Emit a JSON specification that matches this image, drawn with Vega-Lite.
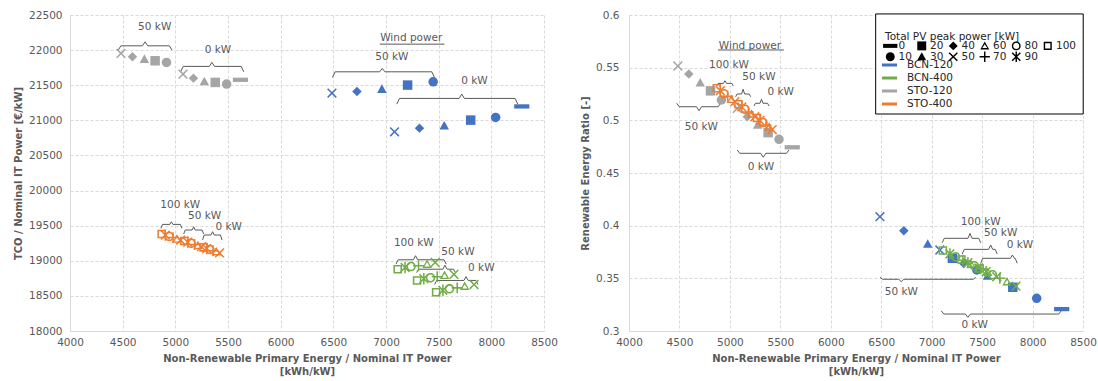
{
"$schema": "https://vega.github.io/schema/vega-lite/v6.json",
"padding": {"left": 13, "top": 10, "right": 5, "bottom": 5},
"background": "white",
"spacing": 85,
"bounds": "flush",
"datasets": {
"pts": [
{"s":"BCN-120","w":50,"pv":50,"x":6487,"tco":21388,"rer":0.4085},
{"s":"BCN-120","w":50,"pv":40,"x":6724,"tco":21412,"rer":0.3952},
{"s":"BCN-120","w":50,"pv":30,"x":6961,"tco":21445,"rer":0.3826},
{"s":"BCN-120","w":50,"pv":20,"x":7205,"tco":21502,"rer":0.369},
{"s":"BCN-120","w":50,"pv":10,"x":7448,"tco":21549,"rer":0.3579},
{"s":"BCN-120","w":0,"pv":50,"x":7081,"tco":20837,"rer":0.3769},
{"s":"BCN-120","w":0,"pv":40,"x":7318,"tco":20889,"rer":0.364},
{"s":"BCN-120","w":0,"pv":30,"x":7553,"tco":20922,"rer":0.3522},
{"s":"BCN-120","w":0,"pv":20,"x":7804,"tco":21003,"rer":0.3415},
{"s":"BCN-120","w":0,"pv":10,"x":8041,"tco":21042,"rer":0.331},
{"s":"BCN-120","w":0,"pv":0,"x":8289,"tco":21198,"rer":0.3208},
{"s":"STO-120","w":50,"pv":50,"x":4484,"tco":21953,"rer":0.5516},
{"s":"STO-120","w":50,"pv":40,"x":4593,"tco":21905,"rer":0.544},
{"s":"STO-120","w":50,"pv":30,"x":4706,"tco":21872,"rer":0.5357},
{"s":"STO-120","w":50,"pv":20,"x":4808,"tco":21848,"rer":0.528},
{"s":"STO-120","w":50,"pv":10,"x":4916,"tco":21825,"rer":0.5193},
{"s":"STO-120","w":0,"pv":50,"x":5073,"tco":21658,"rer":0.5114},
{"s":"STO-120","w":0,"pv":40,"x":5172,"tco":21601,"rer":0.5035},
{"s":"STO-120","w":0,"pv":30,"x":5275,"tco":21554,"rer":0.4956},
{"s":"STO-120","w":0,"pv":20,"x":5379,"tco":21540,"rer":0.4883},
{"s":"STO-120","w":0,"pv":10,"x":5487,"tco":21516,"rer":0.482},
{"s":"STO-120","w":0,"pv":0,"x":5618,"tco":21577,"rer":0.4744},
{"s":"BCN-400","w":100,"pv":100,"x":7111,"tco":18880,"rer":0.3765},
{"s":"BCN-400","w":100,"pv":90,"x":7181,"tco":18904,"rer":0.3732},
{"s":"BCN-400","w":100,"pv":80,"x":7238,"tco":18919,"rer":0.3705},
{"s":"BCN-400","w":100,"pv":70,"x":7309,"tco":18928,"rer":0.3672},
{"s":"BCN-400","w":100,"pv":60,"x":7390,"tco":18952,"rer":0.3634},
{"s":"BCN-400","w":100,"pv":50,"x":7467,"tco":18977,"rer":0.3598},
{"s":"BCN-400","w":50,"pv":100,"x":7295,"tco":18720,"rer":0.3679},
{"s":"BCN-400","w":50,"pv":90,"x":7359,"tco":18745,"rer":0.3649},
{"s":"BCN-400","w":50,"pv":80,"x":7423,"tco":18759,"rer":0.3619},
{"s":"BCN-400","w":50,"pv":70,"x":7486,"tco":18774,"rer":0.359},
{"s":"BCN-400","w":50,"pv":60,"x":7556,"tco":18793,"rer":0.3557},
{"s":"BCN-400","w":50,"pv":50,"x":7645,"tco":18807,"rer":0.3515},
{"s":"BCN-400","w":0,"pv":100,"x":7476,"tco":18551,"rer":0.3594},
{"s":"BCN-400","w":0,"pv":90,"x":7540,"tco":18580,"rer":0.3564},
{"s":"BCN-400","w":0,"pv":80,"x":7603,"tco":18600,"rer":0.3535},
{"s":"BCN-400","w":0,"pv":70,"x":7676,"tco":18614,"rer":0.3501},
{"s":"BCN-400","w":0,"pv":60,"x":7747,"tco":18638,"rer":0.3468},
{"s":"BCN-400","w":0,"pv":50,"x":7836,"tco":18662,"rer":0.3426},
{"s":"STO-400","w":100,"pv":100,"x":4870,"tco":19381,"rer":0.5304},
{"s":"STO-400","w":100,"pv":90,"x":4905,"tco":19366,"rer":0.5281},
{"s":"STO-400","w":100,"pv":80,"x":4942,"tco":19345,"rer":0.5252},
{"s":"STO-400","w":100,"pv":70,"x":4978,"tco":19330,"rer":0.5229},
{"s":"STO-400","w":100,"pv":60,"x":5015,"tco":19309,"rer":0.52},
{"s":"STO-400","w":100,"pv":50,"x":5050,"tco":19295,"rer":0.5177},
{"s":"STO-400","w":50,"pv":100,"x":5085,"tco":19283,"rer":0.5152},
{"s":"STO-400","w":50,"pv":90,"x":5118,"tco":19265,"rer":0.5127},
{"s":"STO-400","w":50,"pv":80,"x":5150,"tco":19251,"rer":0.5106},
{"s":"STO-400","w":50,"pv":70,"x":5183,"tco":19233,"rer":0.508},
{"s":"STO-400","w":50,"pv":60,"x":5215,"tco":19219,"rer":0.506},
{"s":"STO-400","w":50,"pv":50,"x":5248,"tco":19201,"rer":0.5034},
{"s":"STO-400","w":0,"pv":100,"x":5268,"tco":19191,"rer":0.5022},
{"s":"STO-400","w":0,"pv":90,"x":5298,"tco":19174,"rer":0.4999},
{"s":"STO-400","w":0,"pv":80,"x":5328,"tco":19161,"rer":0.4979},
{"s":"STO-400","w":0,"pv":70,"x":5358,"tco":19144,"rer":0.4956},
{"s":"STO-400","w":0,"pv":60,"x":5389,"tco":19130,"rer":0.4936},
{"s":"STO-400","w":0,"pv":50,"x":5420,"tco":19112,"rer":0.4912}
],
"ann": [
{"p":"L","t":"50 kW","x":4804,"y":22323},
{"p":"L","t":"0 kW","x":5404,"y":22000},
{"p":"L","t":"Wind power","x":7240,"y":22167},
{"p":"L","t":"50 kW","x":7055,"y":21896},
{"p":"L","t":"0 kW","x":7840,"y":21563},
{"p":"L","t":"100 kW","x":5047,"y":19791},
{"p":"L","t":"50 kW","x":5278,"y":19636},
{"p":"L","t":"0 kW","x":5506,"y":19476},
{"p":"L","t":"100 kW","x":7264,"y":19257},
{"p":"L","t":"50 kW","x":7683,"y":19122},
{"p":"L","t":"0 kW","x":7905,"y":18904},
{"p":"R","t":"Wind power","x":5199,"y":0.5706},
{"p":"R","t":"100 kW","x":4991,"y":0.5525},
{"p":"R","t":"50 kW","x":5288,"y":0.5408},
{"p":"R","t":"0 kW","x":5503,"y":0.5272},
{"p":"R","t":"50 kW","x":4717,"y":0.4934},
{"p":"R","t":"0 kW","x":5308,"y":0.4557},
{"p":"R","t":"100 kW","x":7486,"y":0.4037},
{"p":"R","t":"50 kW","x":7684,"y":0.3927},
{"p":"R","t":"0 kW","x":7875,"y":0.3816},
{"p":"R","t":"50 kW","x":6699,"y":0.3373},
{"p":"R","t":"0 kW","x":7426,"y":0.3057}
],
"br": [
{"p":"L","id":"L1","o":0,"x":4458,"y":22000},{"p":"L","id":"L1","o":1,"x":4483,"y":22061},{"p":"L","id":"L1","o":2,"x":4688,"y":22061},{"p":"L","id":"L1","o":3,"x":4713,"y":22118},{"p":"L","id":"L1","o":4,"x":4738,"y":22061},{"p":"L","id":"L1","o":5,"x":4943,"y":22061},{"p":"L","id":"L1","o":6,"x":4968,"y":22000},
{"p":"L","id":"L2","o":0,"x":5050,"y":21691},{"p":"L","id":"L2","o":1,"x":5075,"y":21768},{"p":"L","id":"L2","o":2,"x":5322,"y":21768},{"p":"L","id":"L2","o":3,"x":5347,"y":21825},{"p":"L","id":"L2","o":4,"x":5372,"y":21768},{"p":"L","id":"L2","o":5,"x":5625,"y":21768},{"p":"L","id":"L2","o":6,"x":5650,"y":21691},
{"p":"L","id":"L3","o":0,"x":6492,"y":21611},{"p":"L","id":"L3","o":1,"x":6517,"y":21691},{"p":"L","id":"L3","o":2,"x":6940,"y":21691},{"p":"L","id":"L3","o":3,"x":6965,"y":21739},{"p":"L","id":"L3","o":4,"x":6990,"y":21691},{"p":"L","id":"L3","o":5,"x":7435,"y":21691},{"p":"L","id":"L3","o":6,"x":7460,"y":21611},
{"p":"L","id":"L4","o":0,"x":7103,"y":21231},{"p":"L","id":"L4","o":1,"x":7128,"y":21312},{"p":"L","id":"L4","o":2,"x":7694,"y":21312},{"p":"L","id":"L4","o":3,"x":7719,"y":21374},{"p":"L","id":"L4","o":4,"x":7744,"y":21312},{"p":"L","id":"L4","o":5,"x":8226,"y":21312},{"p":"L","id":"L4","o":6,"x":8251,"y":21231},
{"p":"L","id":"L5","o":0,"x":4863,"y":19462},{"p":"L","id":"L5","o":1,"x":4878,"y":19518},{"p":"L","id":"L5","o":2,"x":4947,"y":19518},{"p":"L","id":"L5","o":3,"x":4962,"y":19555},{"p":"L","id":"L5","o":4,"x":4977,"y":19518},{"p":"L","id":"L5","o":5,"x":5048,"y":19518},{"p":"L","id":"L5","o":6,"x":5063,"y":19462},
{"p":"L","id":"L6","o":0,"x":5079,"y":19381},{"p":"L","id":"L6","o":1,"x":5094,"y":19438},{"p":"L","id":"L6","o":2,"x":5159,"y":19438},{"p":"L","id":"L6","o":3,"x":5174,"y":19484},{"p":"L","id":"L6","o":4,"x":5189,"y":19438},{"p":"L","id":"L6","o":5,"x":5254,"y":19438},{"p":"L","id":"L6","o":6,"x":5269,"y":19381},
{"p":"L","id":"L7","o":0,"x":5259,"y":19297},{"p":"L","id":"L7","o":1,"x":5274,"y":19367},{"p":"L","id":"L7","o":2,"x":5339,"y":19367},{"p":"L","id":"L7","o":3,"x":5354,"y":19414},{"p":"L","id":"L7","o":4,"x":5369,"y":19367},{"p":"L","id":"L7","o":5,"x":5428,"y":19367},{"p":"L","id":"L7","o":6,"x":5443,"y":19297},
{"p":"L","id":"L8","o":0,"x":7095,"y":18952},{"p":"L","id":"L8","o":1,"x":7115,"y":19014},{"p":"L","id":"L8","o":2,"x":7260,"y":19014},{"p":"L","id":"L8","o":3,"x":7280,"y":19072},{"p":"L","id":"L8","o":4,"x":7300,"y":19014},{"p":"L","id":"L8","o":5,"x":7551,"y":19014},{"p":"L","id":"L8","o":6,"x":7571,"y":18952},
{"p":"L","id":"L9","o":0,"x":7290,"y":18832},{"p":"L","id":"L9","o":1,"x":7310,"y":18880},{"p":"L","id":"L9","o":2,"x":7540,"y":18880},{"p":"L","id":"L9","o":3,"x":7560,"y":18938},{"p":"L","id":"L9","o":4,"x":7580,"y":18880},{"p":"L","id":"L9","o":5,"x":7640,"y":18880},{"p":"L","id":"L9","o":6,"x":7660,"y":18832},
{"p":"L","id":"L10","o":0,"x":7461,"y":18662},{"p":"L","id":"L10","o":1,"x":7481,"y":18720},{"p":"L","id":"L10","o":2,"x":7740,"y":18720},{"p":"L","id":"L10","o":3,"x":7760,"y":18774},{"p":"L","id":"L10","o":4,"x":7780,"y":18720},{"p":"L","id":"L10","o":5,"x":7853,"y":18720},{"p":"L","id":"L10","o":6,"x":7873,"y":18662},
{"p":"L","id":"LU","o":0,"x":6941,"y":22085},{"p":"L","id":"LU","o":1,"x":7555,"y":22085},
{"p":"R","id":"R1","o":0,"x":4473,"y":0.5162},{"p":"R","id":"R1","o":1,"x":4498,"y":0.5129},{"p":"R","id":"R1","o":2,"x":4669,"y":0.5129},{"p":"R","id":"R1","o":3,"x":4694,"y":0.5091},{"p":"R","id":"R1","o":4,"x":4719,"y":0.5129},{"p":"R","id":"R1","o":5,"x":4884,"y":0.5129},{"p":"R","id":"R1","o":6,"x":4909,"y":0.5162},
{"p":"R","id":"R2","o":0,"x":5073,"y":0.4718},{"p":"R","id":"R2","o":1,"x":5098,"y":0.4687},{"p":"R","id":"R2","o":2,"x":5306,"y":0.4687},{"p":"R","id":"R2","o":3,"x":5331,"y":0.4649},{"p":"R","id":"R2","o":4,"x":5356,"y":0.4687},{"p":"R","id":"R2","o":5,"x":5561,"y":0.4687},{"p":"R","id":"R2","o":6,"x":5586,"y":0.4718},
{"p":"R","id":"R3","o":0,"x":4869,"y":0.5326},{"p":"R","id":"R3","o":1,"x":4884,"y":0.5351},{"p":"R","id":"R3","o":2,"x":4936,"y":0.5351},{"p":"R","id":"R3","o":3,"x":4951,"y":0.5376},{"p":"R","id":"R3","o":4,"x":4966,"y":0.5351},{"p":"R","id":"R3","o":5,"x":5019,"y":0.5351},{"p":"R","id":"R3","o":6,"x":5034,"y":0.5326},
{"p":"R","id":"R4","o":0,"x":5057,"y":0.5224},{"p":"R","id":"R4","o":1,"x":5072,"y":0.525},{"p":"R","id":"R4","o":2,"x":5116,"y":0.525},{"p":"R","id":"R4","o":3,"x":5131,"y":0.5295},{"p":"R","id":"R4","o":4,"x":5146,"y":0.525},{"p":"R","id":"R4","o":5,"x":5191,"y":0.525},{"p":"R","id":"R4","o":6,"x":5206,"y":0.5224},
{"p":"R","id":"R5","o":0,"x":5239,"y":0.5136},{"p":"R","id":"R5","o":1,"x":5254,"y":0.5162},{"p":"R","id":"R5","o":2,"x":5298,"y":0.5162},{"p":"R","id":"R5","o":3,"x":5313,"y":0.52},{"p":"R","id":"R5","o":4,"x":5328,"y":0.5162},{"p":"R","id":"R5","o":5,"x":5373,"y":0.5162},{"p":"R","id":"R5","o":6,"x":5388,"y":0.5136},
{"p":"R","id":"R6","o":0,"x":7105,"y":0.3838},{"p":"R","id":"R6","o":1,"x":7125,"y":0.388},{"p":"R","id":"R6","o":2,"x":7360,"y":0.388},{"p":"R","id":"R6","o":3,"x":7380,"y":0.3927},{"p":"R","id":"R6","o":4,"x":7400,"y":0.388},{"p":"R","id":"R6","o":5,"x":7466,"y":0.388},{"p":"R","id":"R6","o":6,"x":7486,"y":0.3838},
{"p":"R","id":"R7","o":0,"x":7303,"y":0.3731},{"p":"R","id":"R7","o":1,"x":7323,"y":0.3775},{"p":"R","id":"R7","o":2,"x":7565,"y":0.3775},{"p":"R","id":"R7","o":3,"x":7585,"y":0.3816},{"p":"R","id":"R7","o":4,"x":7605,"y":0.3775},{"p":"R","id":"R7","o":5,"x":7630,"y":0.3775},{"p":"R","id":"R7","o":6,"x":7650,"y":0.3731},
{"p":"R","id":"R8","o":0,"x":7486,"y":0.3643},{"p":"R","id":"R8","o":1,"x":7506,"y":0.369},{"p":"R","id":"R8","o":2,"x":7780,"y":0.369},{"p":"R","id":"R8","o":3,"x":7800,"y":0.3721},{"p":"R","id":"R8","o":4,"x":7820,"y":0.369},{"p":"R","id":"R8","o":5,"x":7828,"y":0.369},{"p":"R","id":"R8","o":6,"x":7848,"y":0.3643},
{"p":"R","id":"R9","o":0,"x":6488,"y":0.3509},{"p":"R","id":"R9","o":1,"x":6513,"y":0.3491},{"p":"R","id":"R9","o":2,"x":6674,"y":0.3491},{"p":"R","id":"R9","o":3,"x":6699,"y":0.3468},{"p":"R","id":"R9","o":4,"x":6724,"y":0.3491},{"p":"R","id":"R9","o":5,"x":7411,"y":0.3491},{"p":"R","id":"R9","o":6,"x":7436,"y":0.3509},
{"p":"R","id":"R10","o":0,"x":7095,"y":0.3192},{"p":"R","id":"R10","o":1,"x":7120,"y":0.3161},{"p":"R","id":"R10","o":2,"x":7334,"y":0.3161},{"p":"R","id":"R10","o":3,"x":7359,"y":0.313},{"p":"R","id":"R10","o":4,"x":7384,"y":0.3161},{"p":"R","id":"R10","o":5,"x":8260,"y":0.3161},{"p":"R","id":"R10","o":6,"x":8285,"y":0.3192},
{"p":"R","id":"RU","o":0,"x":4882,"y":0.5668},{"p":"R","id":"RU","o":1,"x":5536,"y":0.5668}
],
"box": [{"x1":6445,"x2":8502,"y1":0.506,"y2":0.601}]
},
"hconcat": [
{
"width": 474, "height": 316,
"layer": [
{"data": {"name": "br"}, "transform": [{"filter": "datum.p == 'L'"}],
 "mark": {"type": "line", "color": "#595959", "strokeWidth": 1},
 "encoding": {
  "x": {"field": "x", "type": "quantitative", "title": ["Non-Renewable Primary Energy / Nominal IT Power", "[kWh/kW]"], "scale": {"domain": [4000, 8500], "nice": false, "zero": false}, "axis": {"values": [4000,4500,5000,5500,6000,6500,7000,7500,8000,8500], "tickCount": 20, "format": "d", "labelPadding": 6, "titlePadding": 6, "titleLineHeight": 13, "labelOverlap": false, "labelFlush": false}},
  "y": {"field": "y", "type": "quantitative", "title": "TCO / Nominal IT Power  [€/kW]", "scale": {"domain": [18000, 22500], "nice": false, "zero": false}, "axis": {"values": [18000,18500,19000,19500,20000,20500,21000,21500,22000,22500], "tickCount": 20, "format": "d", "labelPadding": 8, "titlePadding": 5, "labelOverlap": false, "labelFlush": false}},
  "detail": {"field": "id"},
  "order": {"field": "o"}
 }},
{"data": {"name": "ann"}, "transform": [{"filter": "datum.p == 'L'"}],
 "mark": {"type": "text", "font": "DejaVu Sans", "fontSize": 10.5, "color": "#595959", "baseline": "middle", "align": "center"},
 "encoding": {
  "x": {"field": "x", "type": "quantitative", "title": ["Non-Renewable Primary Energy / Nominal IT Power", "[kWh/kW]"]},
  "y": {"field": "y", "type": "quantitative", "title": "TCO / Nominal IT Power  [€/kW]"},
  "text": {"field": "t"}
 }},
{"data": {"name": "pts"},
 "mark": {"type": "point", "filled": true, "size": 90, "opacity": 1},
 "encoding": {
  "x": {"field": "x", "type": "quantitative", "title": ["Non-Renewable Primary Energy / Nominal IT Power", "[kWh/kW]"]},
  "y": {"field": "tco", "type": "quantitative", "title": "TCO / Nominal IT Power  [€/kW]"},
  "color": {"field": "s", "type": "nominal", "scale": {"domain": ["BCN-120","BCN-400","STO-120","STO-400"], "range": ["#4472C4","#70AD47","#A5A5A5","#ED7D31"]}, "legend": null},
  "shape": {"field": "pv", "type": "nominal", "scale": {"domain": [0,20,40,60,80,100,10,30,50,70,90], "range": [
   "M-1.6,-0.45L1.6,-0.45L1.6,0.45L-1.6,0.45Z",
   "square",
   "diamond",
   "M0,-1L1,0.8L-1,0.8Z M0,-0.38L-0.56,0.5L0.56,0.5Z",
   "M-1,0A1,1 0 1,0 1,0A1,1 0 1,0 -1,0Z M-0.68,0A0.68,0.68 0 1,1 0.68,0A0.68,0.68 0 1,1 -0.68,0Z",
   "M-0.9,-0.9L0.9,-0.9L0.9,0.9L-0.9,0.9Z M-0.58,-0.58L-0.58,0.58L0.58,0.58L0.58,-0.58Z",
   "circle",
   "M0,-1L1,0.8L-1,0.8Z",
   "M0.806,-1.032L1.032,-0.806L0.226,0L1.032,0.806L0.806,1.032L0,0.226L-0.806,1.032L-1.032,0.806L-0.226,0L-1.032,-0.806L-0.806,-1.032L0,-0.226Z",
   "M-0.16,-1.15L0.16,-1.15L0.16,-0.16L1.15,-0.16L1.15,0.16L0.16,0.16L0.16,1.15L-0.16,1.15L-0.16,0.16L-1.15,0.16L-1.15,-0.16L-0.16,-0.16Z",
   "M0.806,-1.032L1.032,-0.806L0.226,0L1.032,0.806L0.806,1.032L0,0.226L-0.806,1.032L-1.032,0.806L-0.226,0L-1.032,-0.806L-0.806,-1.032L0,-0.226Z M-0.16,-1.2L0.16,-1.2L0.16,1.2L-0.16,1.2Z"
  ]}, "legend": null}
 }}
]
},
{
"width": 454, "height": 316,
"layer": [
{"data": {"name": "br"}, "transform": [{"filter": "datum.p == 'R'"}],
 "mark": {"type": "line", "color": "#595959", "strokeWidth": 1},
 "encoding": {
  "x": {"field": "x", "type": "quantitative", "title": ["Non-Renewable Primary Energy / Nominal IT Power", "[kWh/kW]"], "scale": {"domain": [4000, 8500], "nice": false, "zero": false}, "axis": {"values": [4000,4500,5000,5500,6000,6500,7000,7500,8000,8500], "tickCount": 20, "format": "d", "labelPadding": 6, "titlePadding": 6, "titleLineHeight": 13, "labelOverlap": false, "labelFlush": false}},
  "y": {"field": "y", "type": "quantitative", "title": "Renewable Energy Ratio [-]", "scale": {"domain": [0.3, 0.6], "nice": false, "zero": false}, "axis": {"values": [0.3,0.35,0.4,0.45,0.5,0.55,0.6], "tickCount": 20, "format": "~g", "labelPadding": 10, "titlePadding": 5, "labelOverlap": false, "labelFlush": false}},
  "detail": {"field": "id"},
  "order": {"field": "o"}
 }},
{"data": {"name": "ann"}, "transform": [{"filter": "datum.p == 'R'"}],
 "mark": {"type": "text", "font": "DejaVu Sans", "fontSize": 10.5, "color": "#595959", "baseline": "middle", "align": "center"},
 "encoding": {
  "x": {"field": "x", "type": "quantitative", "title": ["Non-Renewable Primary Energy / Nominal IT Power", "[kWh/kW]"]},
  "y": {"field": "y", "type": "quantitative", "title": "Renewable Energy Ratio [-]"},
  "text": {"field": "t"}
 }},
{"data": {"name": "pts"},
 "mark": {"type": "point", "filled": true, "size": 90, "opacity": 1},
 "encoding": {
  "x": {"field": "x", "type": "quantitative", "title": ["Non-Renewable Primary Energy / Nominal IT Power", "[kWh/kW]"]},
  "y": {"field": "rer", "type": "quantitative", "title": "Renewable Energy Ratio [-]"},
  "color": {"field": "s", "type": "nominal", "legend": {"orient": "none", "legendX": 253, "legendY": 42.5, "title": null, "symbolType": "M-1,-0.2L1,-0.2L1,0.2L-1,0.2Z", "symbolSize": 225, "symbolStrokeWidth": 0, "symbolOpacity": 1, "labelOffset": 10, "rowPadding": -2.3, "labelFontSize": 10.5, "labelColor": "#262626"}},
  "shape": {"field": "pv", "type": "nominal", "legend": {"orient": "none", "legendX": 256, "legendY": 17, "title": "Total PV peak power [kW]", "columns": 6, "direction": "horizontal", "gridAlign": "each", "columnPadding": 4.5, "rowPadding": -2.6, "symbolSize": 80, "symbolFillColor": "#000000", "symbolStrokeWidth": 0, "symbolOpacity": 1, "labelOffset": 3, "titlePadding": -2, "titleFontWeight": "normal", "titleFontSize": 10.5, "titleColor": "#262626", "labelColor": "#262626", "labelFontSize": 10.5}}
 }},
{"data": {"name": "box"},
 "mark": {"type": "rect", "fill": "white", "stroke": "black", "strokeWidth": 1},
 "encoding": {
  "x": {"field": "x1", "type": "quantitative", "title": ["Non-Renewable Primary Energy / Nominal IT Power", "[kWh/kW]"]},
  "x2": {"field": "x2"},
  "y": {"field": "y1", "type": "quantitative", "title": "Renewable Energy Ratio [-]"},
  "y2": {"field": "y2"}
 }}
]
}
],
"resolve": {"legend": {"shape": "independent", "color": "independent"}},
"config": {
 "view": {"stroke": null},
 "font": "DejaVu Sans",
 "axis": {"domainColor": "#d9d9d9", "ticks": false, "grid": true, "gridColor": "#d9d9d9", "gridDash": [3, 2], "labelColor": "#595959", "labelFont": "DejaVu Sans", "labelFontSize": 10.5, "titleColor": "#595959", "titleFont": "DejaVu Sans", "titleFontSize": 10, "titleFontWeight": "bold"},
 "legend": {"labelFont": "DejaVu Sans", "titleFont": "DejaVu Sans", "padding": 0}
}
}
